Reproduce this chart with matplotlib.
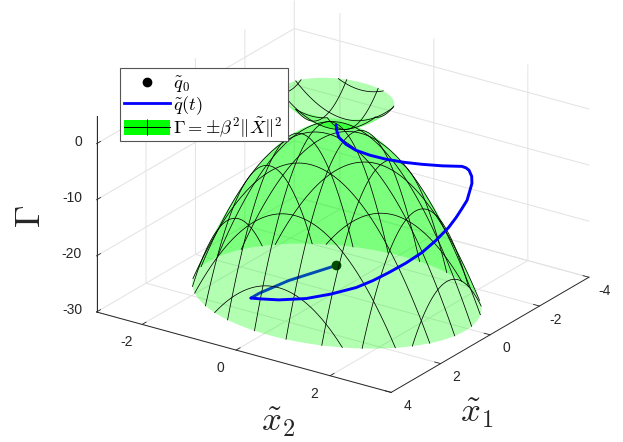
import numpy as np
import matplotlib
matplotlib.use('Agg')
import matplotlib.pyplot as plt
from matplotlib.lines import Line2D
from matplotlib.patches import Patch, Rectangle
from matplotlib.legend_handler import HandlerTuple
from mpl_toolkits.mplot3d import proj3d
from mpl_toolkits.mplot3d.art3d import Poly3DCollection

plt.rcParams['font.family'] = ['Liberation Sans', 'DejaVu Sans']
plt.rcParams['mathtext.fontset'] = 'cm'

# superficie Gamma = +-beta^2 ||X||^2
beta2 = 4.1
z_low = -30.4
z_up = 4.8
center_x1, center_x2 = 0.04, 0.06
mesh_vals = [-2.27, -1.6, -0.93, -0.27, 0.4, 1.07, 1.73, 2.4]

# trajetoria
q_x1 = [0.83, 1.62, 1.82, 1.88, 1.92, 1.87, 1.72, 1.58, 1.35, 1.20, 1.01, 0.87, 0.70, 0.48,
        0.23, 0.06, -0.07, -0.23, -0.56, -0.76, -0.88, -0.875, -0.84, -0.53, -0.29, -0.02,
        0.20, 0.35, 0.43, 0.46, 0.38, 0.18, 0.03]
q_x2 = [0.46, -0.13, -0.66, -0.80, -0.56, -0.21, 0.29, 0.75, 1.16, 1.44, 1.68, 1.97, 2.22, 2.40,
        2.54, 2.61, 2.66, 2.69, 2.62, 2.51, 2.39, 2.33, 2.26, 2.00, 1.70, 1.46,
        1.19, 0.93, 0.67, 0.475, 0.28, 0.13, 0.04]
q_z = [-22, -24, -27, -28, -27.5, -27, -26, -24.5, -23, -21.5, -20, -18, -16, -14,
       -12, -10.5, -9.2, -8, -6, -5.5, -5, -4.7, -4.5, -4.2, -4, -3.5,
       -3, -2.5, -2, -1.3, -0.7, -0.3, 0]
n_inside = 4  # pontos vistos atraves da superficie

x1_ticks = [-4, -2, 0, 2, 4]
x2_ticks = [-2, 0, 2]
z_ticks = [-30, -20, -10, 0]

fig = plt.figure(figsize=(6.23, 4.42), dpi=100)
W = 528.0
left, bottom_px = 71.6, 467.6
ax = fig.add_axes([left / 623, (442 - bottom_px) / 442, W / 623, W / 442],
                  projection='3d', computed_zorder=False)
ax.set_proj_type('ortho')
ax.view_init(elev=23.5, azim=34.4)
ax.set_box_aspect((350, 357, 214))
x_min, x_max, y_min, y_max = -4, 4, -2.97, 3.3
ax.set_xlim(x_min, x_max)
ax.set_ylim(y_min, y_max)
ax.set_zlim(-30, 5)
ax.patch.set_alpha(0)

# eixos no estilo do MATLAB
ink = '#262626'
for axis in (ax.xaxis, ax.yaxis, ax.zaxis):
    axis.set_pane_color((1, 1, 1, 0))
    axis.pane.set_edgecolor('none')
    axis.line.set_color(ink)
    axis.line.set_linewidth(0.7)
    axis._axinfo['grid'].update(color='#e2e2e2', linewidth=0.7)
    axis._axinfo['tick'].update(inward_factor=0.0, outward_factor=0.25,
                                linewidth={True: 0.6, False: 0.6}, color=ink)
ax.set_xticks(x1_ticks, [''] * len(x1_ticks))
ax.set_yticks(x2_ticks, [''] * len(x2_ticks))
ax.set_zticks(z_ticks, [''] * len(z_ticks))
ax.tick_params(color=ink)


def tick_text(label, x, y, z, off, ha='center'):
    # rotulo em pixels a partir do ponto do eixo (como o MATLAB, com hifen)
    px, py, _ = proj3d.proj_transform(x, y, z, ax.get_proj())
    ax.annotate(str(label), xy=(px, py), xytext=off, xycoords='data', textcoords='offset pixels',
                fontsize=10, color=ink, ha=ha, va='center', annotation_clip=False)


for v in x1_ticks:
    tick_text(v, v, y_max, -30, (16, -13.5))
for v in x2_ticks:
    tick_text(v, x_max, v, -30, (-16, -18))
for v in z_ticks:
    tick_text(v, x_max, y_min, v, (-14.5, 1.5), ha='right')


def sheets(r_max, sign):
    # divide a tigela na linha de silhueta: cada folha vira um poligono so, sem emendas
    M = ax.get_proj()
    d = np.cross(M[0][:3], M[1][:3])  # direcao de visao nos dados (projecao ortografica)
    n = d[:2] / d[2]
    k = sign / (2 * beta2)
    t0 = np.arctan2(n[1], n[0])
    delta = np.arccos(k / (np.hypot(*n) * r_max))
    polys = []
    for a, b in ((t0 - delta, t0 + delta), (t0 + delta, t0 + 2 * np.pi - delta)):
        t = np.linspace(a, b, 300)
        x, y = r_max * np.cos(t), r_max * np.sin(t)
        f = np.linspace(0, 1, 100)
        x = np.r_[x, x[-1] + f * (x[0] - x[-1])]
        y = np.r_[y, y[-1] + f * (y[0] - y[-1])]
        polys.append(np.column_stack([x + center_x1, y + center_x2,
                                      sign * beta2 * (x**2 + y**2)]))
    return polys


def bowl(rim_z, sign):
    r_max = np.sqrt(abs(rim_z) / beta2)
    pc = Poly3DCollection(sheets(r_max, sign), facecolor=(0, 1, 0, 0.3), edgecolor='none',
                          linewidth=0, zorder=2)
    ax.add_collection3d(pc)
    # malha: curvas x1 = c e x2 = c
    for c in mesh_vals:
        if abs(c - center_x1) < r_max:
            s = np.linspace(-1, 1, 80) * np.sqrt(r_max**2 - (c - center_x1)**2)
            h = sign * beta2 * ((c - center_x1)**2 + s**2)
            ax.plot(np.full_like(s, c), s + center_x2, h, color='k', lw=0.55, zorder=3)
        if abs(c - center_x2) < r_max:
            s = np.linspace(-1, 1, 80) * np.sqrt(r_max**2 - (c - center_x2)**2)
            h = sign * beta2 * ((c - center_x2)**2 + s**2)
            ax.plot(s + center_x1, np.full_like(s, c), h, color='k', lw=0.55, zorder=3)


# parte interna fica atras da superficie
ax.plot(q_x1[:n_inside], q_x2[:n_inside], q_z[:n_inside], color='#0000ff', lw=2.1,
        zorder=1, solid_capstyle='round')
ax.plot(q_x1[:1], q_x2[:1], q_z[:1], 'o', color='k', ms=6, zorder=1)
bowl(z_low, -1)
bowl(z_up, 1)
ax.plot(q_x1[n_inside - 1:], q_x2[n_inside - 1:], q_z[n_inside - 1:], color='#0000ff', lw=2.1,
        zorder=4, solid_joinstyle='round', solid_capstyle='round')

# caixa da legenda desenhada a parte para acertar a altura
box = Rectangle((119.5 / 623, 1 - 141 / 442), 168 / 623, 73 / 442, transform=fig.transFigure,
                facecolor='white', edgecolor='#555555', linewidth=0.8, zorder=5)
fig.add_artist(box)

h_pt = Line2D([], [], ls='none', marker='o', color='k', ms=6)
h_line = Line2D([], [], color='#0000ff', lw=2.0)
h_surf = (Patch(facecolor=(0, 1, 0), edgecolor='none'),
          Line2D([], [], color='k', lw=0.7, marker='|', ms=12, mew=0.7))
leg = fig.legend([h_pt, h_line, h_surf],
                 [r'$\tilde{q}_0$', r'$\tilde{q}(t)$', r'$\Gamma = \pm\beta^2\|\tilde{X}\|^2$'],
                 handler_map={tuple: HandlerTuple(ndivide=1, pad=0)},
                 loc='upper left', bbox_to_anchor=(119.5 / 623, 1 - 70 / 442),
                 borderaxespad=0, numpoints=1,
                 fontsize=13.3, handlelength=2.5, handleheight=0.87, handletextpad=0.15,
                 labelspacing=-0.05, borderpad=0.25, frameon=False)
leg.set_zorder(10)

fig.text(278 / 623, 1 - 422 / 442, r'$\tilde{x}_2$', fontsize=25, color=ink, ha='center', va='center')
fig.text(477 / 623, 1 - 413 / 442, r'$\tilde{x}_1$', fontsize=25, color=ink, ha='center', va='center')
fig.text(31 / 623, 1 - 216 / 442, r'$\Gamma$', fontsize=26, color=ink, rotation=90, ha='center', va='center')

fig.savefig('out.png', dpi=100)
